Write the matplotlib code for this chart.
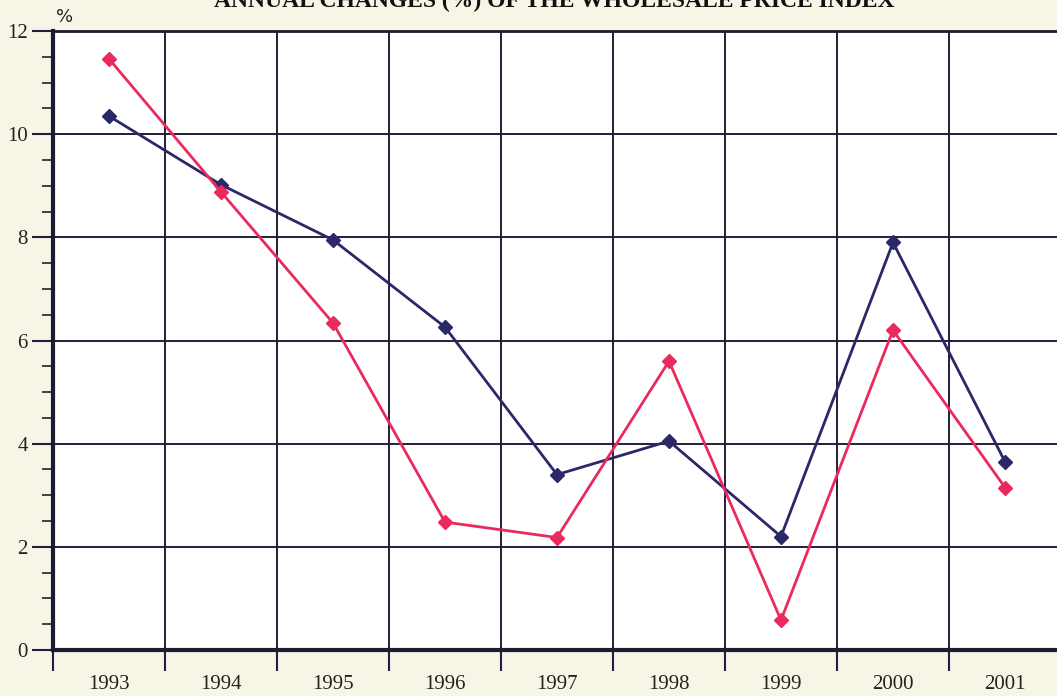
import matplotlib.pyplot as plt
from matplotlib.ticker import MultipleLocator, FixedLocator, NullFormatter

years = ["1993", "1994", "1995", "1996", "1997", "1998", "1999", "2000", "2001"]
blue_series = [10.35, 9.02, 7.95, 6.26, 3.4, 4.05, 2.2, 7.9, 3.65]
red_series = [11.46, 8.88, 6.34, 2.48, 2.18, 5.6, 0.58, 6.2, 3.15]
y_ticks = [0, 2, 4, 6, 8, 10, 12]

W, H = 1057, 696
fig = plt.figure(figsize=(W / 100, H / 100), dpi=100)
fig.patch.set_facecolor("#f7f6e6")
ax = fig.add_axes([53 / W, (H - 650) / H, (1061 - 53) / W, (650 - 31) / H])
ax.set_facecolor("white")

serif = ["Liberation Serif", "DejaVu Serif"]
grid_c = "#231e3a"
x = list(range(len(years)))

ax.set_xlim(-0.5, len(years) - 0.5)
ax.set_ylim(0, 12)

# grid
for b in range(len(years) + 1):
    ax.axvline(b - 0.5, color=grid_c, lw=1.4, zorder=1)
for yt in y_ticks[1:]:
    ax.axhline(yt, color=grid_c, lw=1.4, zorder=1)

ax.plot(x, blue_series, color="#2b2868", lw=2, marker="D", ms=7, zorder=3)
ax.plot(x, red_series, color="#ea2a5c", lw=2, marker="D", ms=7, zorder=4)

# x ticks at category boundaries, labels at centres
ax.xaxis.set_major_locator(FixedLocator([b - 0.5 for b in range(len(years) + 1)]))
ax.xaxis.set_major_formatter(NullFormatter())
ax.tick_params(axis="x", which="major", direction="out", length=15, width=1.5, color=grid_c)
for i, yr in enumerate(years):
    ax.text(i, -0.48, yr, ha="center", va="top", fontsize=15, family=serif, color="#222222")

ax.set_yticks(y_ticks)
ax.set_yticklabels([str(v) for v in y_ticks], fontsize=15, family=serif, color="#222222")
ax.yaxis.set_minor_locator(MultipleLocator(0.5))
ax.tick_params(axis="y", which="major", direction="out", length=15, width=1.5, color=grid_c, pad=3)
ax.tick_params(axis="y", which="minor", direction="out", length=8, width=1.2, color=grid_c)

for side, lw in [("left", 3), ("bottom", 3), ("top", 2), ("right", 2)]:
    ax.spines[side].set_linewidth(lw)
    ax.spines[side].set_color("#1e1a30")

fig.text(65 / W, 1 - 17 / H, "%", ha="center", va="center", fontsize=13, color="#222222")
fig.text(554 / W, 1 - 7 / H, "ANNUAL CHANGES (%) OF THE WHOLESALE PRICE INDEX",
         ha="center", va="baseline", fontsize=17, fontweight="bold", family=serif, color="#111111")

fig.savefig("out.png", dpi=100, facecolor=fig.get_facecolor())
